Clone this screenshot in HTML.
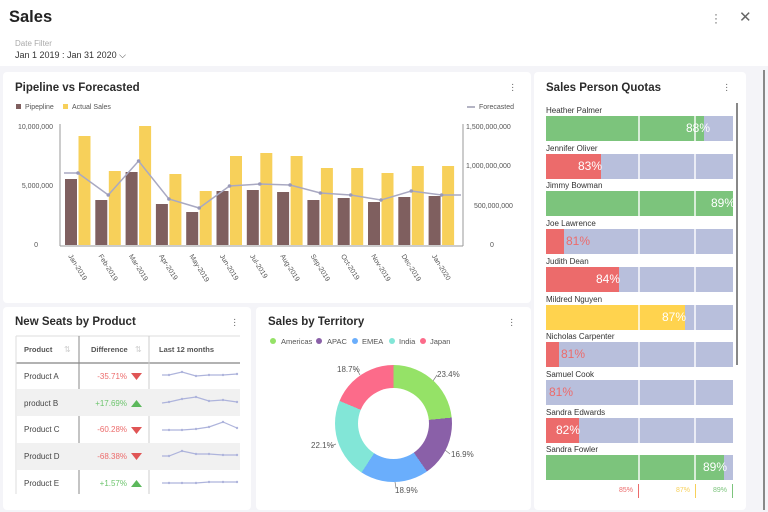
<!DOCTYPE html>
<html><head><meta charset="utf-8"><style>
*{margin:0;padding:0;box-sizing:border-box}
body{width:768px;height:512px;background:#f4f4f8;font-family:"Liberation Sans",sans-serif;position:relative;overflow:hidden;color:#333}
.abs{position:absolute}
.panel{position:absolute;background:#fff;border-radius:4px}
.title{position:absolute;font-size:11.5px;font-weight:bold;color:#2b2b2b}
.name{position:absolute;left:546px;font-size:8px;color:#333}
.bar{position:absolute;left:546px;width:187px;height:25px;background:#b8bfdc}
.fill{position:absolute;left:0;top:0;height:25px}
.div{position:absolute;top:0;width:2px;height:25px;background:rgba(255,255,255,.7)}
.pct{position:absolute;top:5px;font-size:12px}
</style></head><body>
<div class="abs" style="left:0;top:0;width:768px;height:66px;background:#fff"></div>
<div class="abs" style="left:9px;top:8px;font-size:16.5px;font-weight:bold;color:#222">Sales</div>
<div class="abs" style="left:714px;top:12px;font-size:12px;color:#666;line-height:4px">·<br>·<br>·</div>
<div class="abs" style="left:739px;top:8px;font-size:15px;color:#666">✕</div>
<div class="abs" style="left:15px;top:39px;font-size:8px;color:#aaa">Date Filter</div>
<div class="abs" style="left:15px;top:50px;font-size:9px;color:#333">Jan 1 2019 : Jan 31 2020 ⌵</div>

<div class="panel" style="left:3px;top:72px;width:528px;height:231px"></div>
<div class="title" style="left:15px;top:82px">Pipeline vs Forecasted</div>
<div class="abs" style="left:511px;top:83px;font-size:10px;color:#666;line-height:3px">·<br>·<br>·</div>
<svg class="abs" style="left:0;top:0" width="768" height="512">
<g font-size="7" fill="#555" font-family="Liberation Sans">
<rect x="16" y="104" width="5" height="5" fill="#7f5f5f"/><text x="25" y="109">Pipepline</text>
<rect x="63" y="104" width="5" height="5" fill="#f7d05a"/><text x="72" y="109">Actual Sales</text>
<line x1="467" y1="107" x2="475" y2="107" stroke="#9a9ab0" stroke-width="1.5"/><text x="479" y="109">Forecasted</text>
<text x="53" y="129" text-anchor="end">10,000,000</text>
<text x="53" y="188" text-anchor="end">5,000,000</text>
<text x="38" y="247" text-anchor="end">0</text>
<text x="466" y="129">1,500,000,000</text>
<text x="466" y="168">1,000,000,000</text>
<text x="474" y="208">500,000,000</text>
<text x="490" y="247">0</text>
</g>
<line x1="60" y1="124" x2="60" y2="246" stroke="#999"/>
<line x1="463" y1="124" x2="463" y2="246" stroke="#999"/>
<line x1="60" y1="246" x2="463" y2="246" stroke="#999"/>
<g id="bars"></g>
<g id="labels" font-size="7" fill="#555" font-family="Liberation Sans"></g>
<polyline id="fl" fill="none" stroke="#a9a9c2" stroke-width="1.5"/>
<g id="fp" fill="#9a9ab8"></g>
</svg>

<div class="panel" style="left:3px;top:307px;width:248px;height:203px"></div>
<div class="title" style="left:15px;top:316px">New Seats by Product</div>
<div class="abs" style="left:233px;top:318px;font-size:10px;color:#666;line-height:3px">·<br>·<br>·</div>
<svg class="abs" style="left:0;top:0" width="768" height="512" font-family="Liberation Sans">
<line x1="16" y1="336" x2="240" y2="336" stroke="#ddd"/>
<line x1="16" y1="363" x2="240" y2="363" stroke="#999" stroke-width="1.5"/>
<line x1="16" y1="336" x2="16" y2="494" stroke="#ddd"/>
<line x1="79" y1="336" x2="79" y2="494" stroke="#888"/>
<line x1="149" y1="336" x2="149" y2="494" stroke="#ccc"/>
<rect x="17" y="389" width="223" height="27" fill="#f1f1f1"/>
<rect x="17" y="443" width="223" height="27" fill="#f1f1f1"/>
<g font-size="7.5" font-weight="bold" fill="#555">
<text x="24" y="352">Product</text><text x="91" y="352">Difference</text><text x="159" y="352">Last 12 months</text>
</g>
<g font-size="8" fill="#ccc"><text x="64" y="352">⇅</text><text x="135" y="352">⇅</text></g>
<g font-size="8" fill="#444">
<text x="24" y="379">Product A</text><text x="24" y="406">product B</text><text x="24" y="432">Product C</text><text x="24" y="459">Product D</text><text x="24" y="486">Product E</text>
</g>
<g font-size="8" text-anchor="end">
<text x="127" y="379" fill="#ec6b6b">-35.71%</text>
<text x="127" y="406" fill="#6cc46c">+17.69%</text>
<text x="127" y="432" fill="#ec6b6b">-60.28%</text>
<text x="127" y="459" fill="#ec6b6b">-68.38%</text>
<text x="127" y="486" fill="#6cc46c">+1.57%</text>
</g>
<polygon points="131,373 142,373 136.5,380" fill="#e05555"/>
<polygon points="131,407 142,407 136.5,400" fill="#5cb85c"/>
<polygon points="131,427 142,427 136.5,434" fill="#e05555"/>
<polygon points="131,453 142,453 136.5,460" fill="#e05555"/>
<polygon points="131,487 142,487 136.5,480" fill="#5cb85c"/>
<g id="spk" fill="none" stroke="#aeb4dc" stroke-width="1.2"></g>
</svg>

<div class="panel" style="left:256px;top:307px;width:275px;height:203px"></div>
<div class="title" style="left:268px;top:316px">Sales by Territory</div>
<div class="abs" style="left:510px;top:318px;font-size:10px;color:#666;line-height:3px">·<br>·<br>·</div>
<svg class="abs" style="left:0;top:0" width="768" height="512" font-family="Liberation Sans">
<g font-size="7.5" fill="#555">
<circle cx="273" cy="341" r="3" fill="#95e267"/><text x="281" y="344">Americas</text>
<circle cx="319" cy="341" r="3" fill="#8a60a8"/><text x="327" y="344">APAC</text>
<circle cx="355" cy="341" r="3" fill="#6aaefc"/><text x="362" y="344">EMEA</text>
<circle cx="392" cy="341" r="3" fill="#82e6d7"/><text x="399" y="344">India</text>
<circle cx="423" cy="341" r="3" fill="#fc6b8a"/><text x="430" y="344">Japan</text>
</g>
<g font-size="8" fill="#555">
<text x="437" y="377">23.4%</text><text x="451" y="457">16.9%</text><text x="395" y="493">18.9%</text><text x="311" y="448">22.1%</text><text x="337" y="372">18.7%</text>
</g>
<g stroke="#777" stroke-width="0.7">
<line x1="431" y1="384" x2="437" y2="375"/><line x1="445" y1="450" x2="450" y2="454"/>
<line x1="395" y1="482" x2="396" y2="488"/><line x1="336" y1="444" x2="331" y2="446"/><line x1="356" y1="368" x2="360" y2="375"/>
</g>
</svg>
<div class="abs" style="left:335px;top:365px;width:117px;height:117px;border-radius:50%;background:conic-gradient(#95e267 0deg 84.2deg,#8a60a8 84.2deg 145.1deg,#6aaefc 145.1deg 213.1deg,#82e6d7 213.1deg 292.7deg,#fc6b8a 292.7deg 360deg)"></div>
<div class="abs" style="left:358px;top:388px;width:71px;height:71px;border-radius:50%;background:#fff"></div>

<div class="panel" style="left:534px;top:72px;width:212px;height:438px"></div>
<div class="title" style="left:546px;top:82px">Sales Person Quotas</div>
<div class="abs" style="left:725px;top:83px;font-size:10px;color:#666;line-height:3px">·<br>·<br>·</div>
<div class="abs" style="left:736px;top:103px;width:2px;height:262px;background:#888"></div>
<div class="abs" style="left:763px;top:70px;width:2px;height:440px;background:#888"></div>
<div id="q"></div>
<div class="abs" style="left:619px;top:487px;font-size:7px;color:#ec6b6b">85%</div>
<div class="abs" style="left:638px;top:484px;width:1px;height:14px;background:#ec6b6b"></div>
<div class="abs" style="left:676px;top:487px;font-size:7px;color:#f7d05a">87%</div>
<div class="abs" style="left:695px;top:484px;width:1px;height:14px;background:#f7d05a"></div>
<div class="abs" style="left:713px;top:487px;font-size:7px;color:#7cc47c">89%</div>
<div class="abs" style="left:732px;top:484px;width:1px;height:14px;background:#7cc47c"></div>

<script>
var pt=[179,200,172,204,212,191,190,192,200,198,202,197,196];
var at=[136,171,126,174,191,156,153,156,168,168,173,166,166];
var ft=[173,195,161,199,208,186,184,185,193,195,200,191,195];
var m=["Jan-2019","Feb-2019","Mar-2019","Apr-2019","May-2019","Jun-2019","Jul-2019","Aug-2019","Sep-2019","Oct-2019","Nov-2019","Dec-2019","Jan-2020"];
var b="",l="",pts="64,173 ",fp="";
for(var i=0;i<13;i++){var x=65+i*30.3;
b+='<rect x="'+x+'" y="'+pt[i]+'" width="12" height="'+(245-pt[i])+'" fill="#7f5f5f"/>';
b+='<rect x="'+(x+13.5)+'" y="'+at[i]+'" width="12" height="'+(245-at[i])+'" fill="#f7d05a"/>';
var cx=x+13;pts+=cx+","+ft[i]+" ";fp+='<circle cx="'+cx+'" cy="'+ft[i]+'" r="1.8"/>';
l+='<text transform="translate('+(x+3)+',256) rotate(58)">'+m[i]+'</text>';}
pts+="461,195";
document.getElementById("bars").innerHTML=b;document.getElementById("labels").innerHTML=l;
document.getElementById("fl").setAttribute("points",pts);document.getElementById("fp").innerHTML=fp;
var S=[[375,375,372,376,375,375,374],[403,402,399,397,401,400,402],[430,430,430,429,427,422,428],[456,456,451,454,454,455,455],[483,483,483,483,482,482,482]];
var sx=[162,169,182,196,209,223,237],sp="";
for(var r=0;r<5;r++){var p="";for(var k=0;k<7;k++){p+=sx[k]+","+S[r][k]+" ";if(k>0)sp+='<circle cx="'+sx[k]+'" cy="'+S[r][k]+'" r="1.2" fill="#aeb4dc" stroke="none"/>';}
sp='<polyline points="'+p+'"/>'+sp;}
document.getElementById("spk").innerHTML=sp;
var Q=[["Heather Palmer",158,"#7cc47c","88%",140,"#fff"],["Jennifer Oliver",55,"#ec6b6b","83%",32,"#fff"],["Jimmy Bowman",187,"#7cc47c","89%",165,"#fff"],["Joe Lawrence",18,"#ec6b6b","81%",20,"#ec6b6b"],["Judith Dean",73,"#ec6b6b","84%",50,"#fff"],["Mildred Nguyen",139,"#ffd34e","87%",116,"#fff"],["Nicholas Carpenter",13,"#ec6b6b","81%",15,"#ec6b6b"],["Samuel Cook",0,"#ec6b6b","81%",3,"#ec6b6b"],["Sandra Edwards",33,"#ec6b6b","82%",10,"#fff"],["Sandra Fowler",178,"#7cc47c","89%",157,"#fff"]];
var h="";
for(var j=0;j<10;j++){var y=116+j*37.7,q=Q[j];
h+='<div class="name" style="top:'+(y-10)+'px">'+q[0]+'</div><div class="bar" style="top:'+y+'px"><div class="fill" style="width:'+q[1]+'px;background:'+q[2]+'"></div><div class="div" style="left:92px"></div><div class="div" style="left:148px"></div><div class="pct" style="left:'+q[4]+'px;color:'+q[5]+'">'+q[3]+'</div></div>';}
document.getElementById("q").innerHTML=h;
</script>
</body></html>
